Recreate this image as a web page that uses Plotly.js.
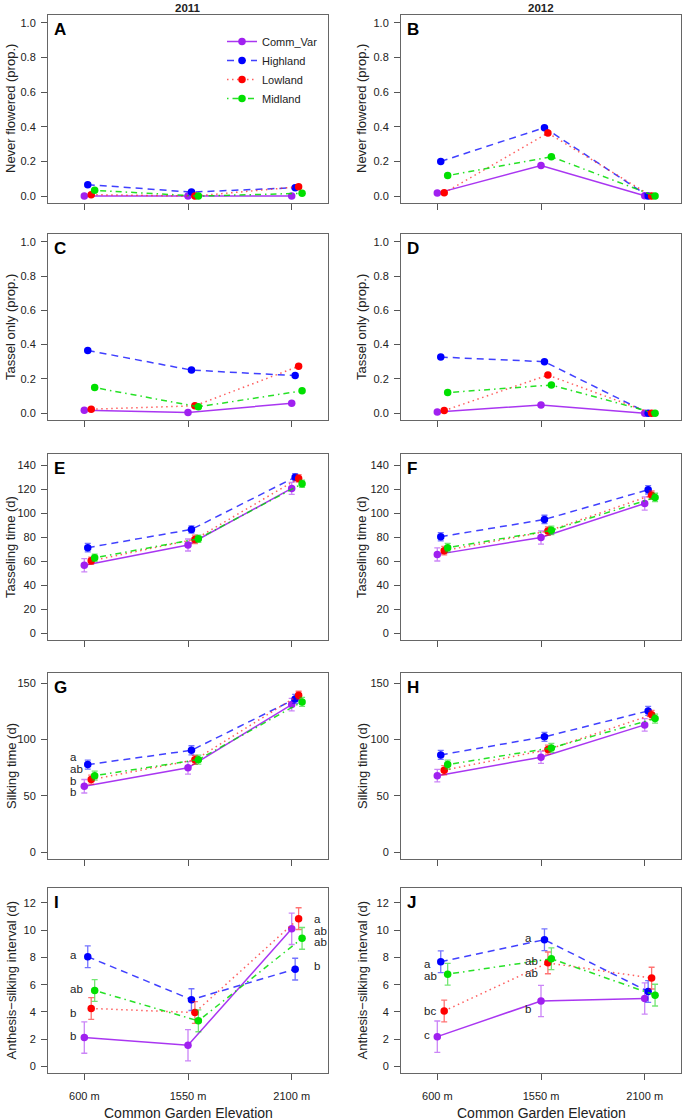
<!DOCTYPE html>
<html><head><meta charset="utf-8">
<script src="https://cdn.plot.ly/plotly-3.0.1.min.js"></script>
<style>html,body{margin:0;padding:0;background:#fff}#chart{width:685px;height:1120px}</style>
</head><body><div id="chart"></div><script>
// ---------- data ----------
const elevations = ['600 m', '1550 m', '2100 m'];
const groups = ['Comm_Var', 'Highland', 'Lowland', 'Midland'];

// rows follow groups order; columns follow elevations
const neverFlowered2011 = [[0.0, 0.0, 0.0], [0.066, 0.023, 0.048], [0.008, 0.0, 0.054], [0.033, 0.0, 0.016]];
const neverFlowered2012 = [[0.017, 0.176, 0.002], [0.200, 0.395, 0.0], [0.019, 0.364, 0.0], [0.118, 0.227, 0.0]];
const tasselOnly2011 = [[0.017, 0.004, 0.058], [0.366, 0.251, 0.219], [0.023, 0.043, 0.273], [0.149, 0.037, 0.130]];
const tasselOnly2012 = [[0.006, 0.048, 0.0], [0.327, 0.300, 0.0], [0.015, 0.222, 0.0], [0.120, 0.164, 0.0]];

const tasseling2011 = [[56.6, 73.5, 120.6], [71.3, 86.5, 130.0], [60.4, 78.2, 129.0], [62.9, 78.7, 124.5]];
const tasselingErr2011 = [[5.5, 5.0, 5.0], [3.5, 3.0, 3.0], [3.0, 3.5, 3.0], [3.0, 3.0, 3.0]];
const tasseling2012 = [[65.7, 79.8, 108.1], [80.4, 94.8, 119.5], [68.8, 85.1, 115.0], [71.3, 85.7, 113.1]];
const tasselingErr2012 = [[5.5, 5.5, 5.5], [3.5, 3.5, 3.5], [3.5, 3.5, 3.5], [3.5, 3.5, 3.5]];

const silking2011 = [[58.6, 74.9, 131.0], [77.8, 90.5, 136.0], [64.5, 82.0, 139.3], [68.0, 82.2, 133.4]];
const silkingErr2011 = [[6.0, 5.5, 5.5], [4.0, 4.0, 4.0], [4.0, 4.0, 3.5], [4.0, 4.0, 4.0]];
const silking2012 = [[68.0, 84.3, 113.0], [86.4, 102.4, 125.4], [72.8, 91.1, 121.9], [77.8, 92.6, 118.6]];
const silkingErr2012 = [[5.5, 5.5, 5.5], [4.0, 4.0, 4.0], [4.0, 4.0, 4.0], [4.0, 4.0, 4.0]];

const asi2011 = [[2.11, 1.55, 10.1], [8.05, 4.90, 7.14], [4.25, 3.95, 10.85], [5.57, 3.34, 9.40]];
const asiErr2011 = [[1.15, 1.15, 1.15], [0.8, 0.8, 0.8], [0.8, 0.8, 0.8], [0.8, 0.8, 0.8]];
const asi2012 = [[2.18, 4.80, 4.98], [7.68, 9.30, 5.50], [4.07, 7.60, 6.48], [6.77, 7.90, 5.23]];
const asiErr2012 = [[1.15, 1.15, 1.15], [0.8, 0.8, 0.8], [0.8, 0.8, 0.8], [0.8, 0.8, 0.8]];

// significance letters
const lettersG600 = ['a', 'ab', 'b', 'b'];
const lettersG600Y = [84.3, 74.2, 63.6, 53.2];
const lettersI600 = ['a', 'ab', 'b', 'b'];
const lettersI600Y = [8.2, 5.7, 3.9, 2.2];
const lettersI2100 = ['a', 'ab', 'ab', 'b'];
const lettersI2100Y = [10.85, 9.96, 9.13, 7.36];
const lettersJ600 = ['a', 'ab', 'bc', 'c'];
const lettersJ600Y = [7.5, 6.65, 4.05, 2.33];
const lettersJ1550 = ['a', 'ab', 'ab', 'b'];
const lettersJ1550Y = [9.4, 7.73, 6.82, 4.22];

// ---------- styling ----------
const W = 685, H = 1120;
const FONT = 'Liberation Sans, Arial, Helvetica, sans-serif';
const colors = ['#A020F0', '#0000FF', '#FF0000', '#00E000'];
const lineColors = ['rgba(160,32,240,0.9)', 'rgba(30,30,255,0.85)', 'rgba(255,40,40,0.75)', 'rgba(0,220,0,0.85)'];
const errColors = ['rgba(160,32,240,0.55)', 'rgba(0,0,255,0.55)', 'rgba(255,0,0,0.55)', 'rgba(0,210,0,0.55)'];
const dashes = ['solid', '7px,5px', '1.5px,3.5px', '1.5px,4px,6px,4px'];
const dodge = [0, 1 / 30, 2 / 30, 0.1];
const colPx = [[48, 328], [401, 681]];
const rowPx = [[15, 203], [234, 420], [454, 640], [673, 859], [888, 1073]];

const panels = [
  {lab: 'A', col: 0, row: 0, d: neverFlowered2011, e: null, yt: 'Never flowered (prop.)', yr: [-0.04, 1.045], tv: [0, 0.2, 0.4, 0.6, 0.8, 1.0], fmt: '.1f'},
  {lab: 'B', col: 1, row: 0, d: neverFlowered2012, e: null, yt: 'Never flowered (prop.)', yr: [-0.04, 1.045], tv: [0, 0.2, 0.4, 0.6, 0.8, 1.0], fmt: '.1f'},
  {lab: 'C', col: 0, row: 1, d: tasselOnly2011, e: null, yt: 'Tassel only (prop.)', yr: [-0.04, 1.045], tv: [0, 0.2, 0.4, 0.6, 0.8, 1.0], fmt: '.1f'},
  {lab: 'D', col: 1, row: 1, d: tasselOnly2012, e: null, yt: 'Tassel only (prop.)', yr: [-0.04, 1.045], tv: [0, 0.2, 0.4, 0.6, 0.8, 1.0], fmt: '.1f'},
  {lab: 'E', col: 0, row: 2, d: tasseling2011, e: tasselingErr2011, yt: 'Tasseling time (d)', yr: [-5.6, 149.3], tv: [0, 20, 40, 60, 80, 100, 120, 140], fmt: 'd'},
  {lab: 'F', col: 1, row: 2, d: tasseling2012, e: tasselingErr2012, yt: 'Tasseling time (d)', yr: [-5.6, 149.3], tv: [0, 20, 40, 60, 80, 100, 120, 140], fmt: 'd'},
  {lab: 'G', col: 0, row: 3, d: silking2011, e: silkingErr2011, yt: 'Silking time (d)', yr: [-5.9, 159], tv: [0, 50, 100, 150], fmt: 'd'},
  {lab: 'H', col: 1, row: 3, d: silking2012, e: silkingErr2012, yt: 'Silking time (d)', yr: [-5.9, 159], tv: [0, 50, 100, 150], fmt: 'd'},
  {lab: 'I', col: 0, row: 4, d: asi2011, e: asiErr2011, yt: 'Anthesis\u2212silking interval (d)', yr: [-0.49, 13.1], tv: [0, 2, 4, 6, 8, 10, 12], fmt: 'd'},
  {lab: 'J', col: 1, row: 4, d: asi2012, e: asiErr2012, yt: 'Anthesis\u2212silking interval (d)', yr: [-0.49, 13.1], tv: [0, 2, 4, 6, 8, 10, 12], fmt: 'd'}
];

const traces = [];
const layout = {
  width: W, height: H,
  margin: {l: 0, r: 0, t: 0, b: 0},
  paper_bgcolor: '#fff', plot_bgcolor: '#fff',
  font: {family: FONT, size: 11, color: '#222'},
  showlegend: true,
  legend: {x: 222 / W, y: 1 - 27 / H, xanchor: 'left', yanchor: 'top', bgcolor: 'rgba(0,0,0,0)',
           font: {family: FONT, size: 11, color: '#222'}, itemwidth: 30, tracegroupgap: 0},
  annotations: [],
  hovermode: false
};

const cats = [1, 2, 3];

panels.forEach((p, idx) => {
  const n = idx + 1;
  const xa = 'x' + (n === 1 ? '' : n), ya = 'y' + (n === 1 ? '' : n);
  const xk = 'xaxis' + (n === 1 ? '' : n), yk = 'yaxis' + (n === 1 ? '' : n);
  const bottom = p.row === 4;
  layout[xk] = {
    domain: [colPx[p.col][0] / W, colPx[p.col][1] / W],
    anchor: ya, range: [0.65, 3.35], tickvals: cats, ticktext: elevations,
    showticklabels: bottom, ticks: 'outside', ticklen: 6, tickcolor: '#555', tickwidth: 1,
    ticklabelstandoff: 7,
    showline: true, mirror: true, linecolor: '#666', linewidth: 1,
    showgrid: false, zeroline: false, fixedrange: true,
    tickfont: {family: FONT, size: 11, color: '#222'}
  };
  layout[yk] = {
    domain: [1 - rowPx[p.row][1] / H, 1 - rowPx[p.row][0] / H],
    anchor: xa, range: p.yr, tickvals: p.tv, tickformat: p.fmt,
    ticks: 'outside', ticklen: 6, tickcolor: '#555', tickwidth: 1, ticklabelstandoff: 3,
    showline: true, mirror: true, linecolor: '#666', linewidth: 1,
    showgrid: false, zeroline: false, fixedrange: true,
    tickfont: {family: FONT, size: 11, color: '#222'}
  };
  groups.forEach((g, gi) => {
    const t = {
      type: 'scatter', mode: 'lines+markers', name: g, legendgroup: g,
      showlegend: idx === 0,
      xaxis: xa, yaxis: ya,
      x: cats.map(c => c + dodge[gi]),
      y: p.d[gi],
      line: {color: lineColors[gi], width: 1.5, dash: dashes[gi]},
      marker: {color: colors[gi], size: 7.5, symbol: 'circle'},
      cliponaxis: false
    };
    if (p.e) {
      t.error_y = {type: 'data', array: p.e[gi], visible: true, color: errColors[gi], thickness: 1.3, width: 3};
    }
    traces.push(t);
  });
  // panel letter
  layout.annotations.push({
    xref: 'paper', yref: 'paper', x: (colPx[p.col][0] + 4) / W, y: 1 - (rowPx[p.row][0] + 3) / H,
    xanchor: 'left', yanchor: 'top', text: '<b>' + p.lab + '</b>', showarrow: false,
    font: {family: FONT, size: 17, color: '#000'}
  });
  // y title
  layout.annotations.push({
    xref: 'paper', yref: 'paper', x: (p.col === 0 ? 11 : 362) / W,
    y: 1 - ((rowPx[p.row][0] + rowPx[p.row][1]) / 2) / H,
    xanchor: 'center', yanchor: 'middle', textangle: -90, text: p.yt, showarrow: false,
    font: {family: FONT, size: 13, color: '#222'}
  });
  if (bottom) {
    layout.annotations.push({
      xref: 'paper', yref: 'paper', x: ((colPx[p.col][0] + colPx[p.col][1]) / 2) / W, y: 1 - 1113 / H,
      xanchor: 'center', yanchor: 'middle', text: 'Common Garden Elevation', showarrow: false,
      font: {family: FONT, size: 14, color: '#222'}
    });
  }
});

// column headers
layout.annotations.push({xref: 'paper', yref: 'paper', x: 188 / W, y: 1 - 8 / H, xanchor: 'center', yanchor: 'middle',
  text: '<b>2011</b>', showarrow: false, font: {family: FONT, size: 11.5, color: '#222'}});
layout.annotations.push({xref: 'paper', yref: 'paper', x: 541 / W, y: 1 - 8 / H, xanchor: 'center', yanchor: 'middle',
  text: '<b>2012</b>', showarrow: false, font: {family: FONT, size: 11.5, color: '#222'}});

// significance letters (data coordinates)
function addLetters(panelIdx, catIdx, shift, texts, ys) {
  const n = panelIdx + 1;
  texts.forEach((tx, i) => {
    layout.annotations.push({
      xref: 'x' + (n === 1 ? '' : n), yref: 'y' + (n === 1 ? '' : n),
      x: cats[catIdx] + shift, y: ys[i], xanchor: 'left', yanchor: 'middle',
      text: tx, showarrow: false, font: {family: FONT, size: 11.5, color: '#222'}
    });
  });
}
addLetters(6, 0, -0.16, lettersG600, lettersG600Y);
addLetters(8, 0, -0.16, lettersI600, lettersI600Y);
addLetters(8, 2, 0.2, lettersI2100, lettersI2100Y);
addLetters(9, 0, -0.15, lettersJ600, lettersJ600Y);
addLetters(9, 1, -0.17, lettersJ1550, lettersJ1550Y);

Plotly.newPlot('chart', traces, layout, {staticPlot: true, displayModeBar: false});
</script></body></html>
